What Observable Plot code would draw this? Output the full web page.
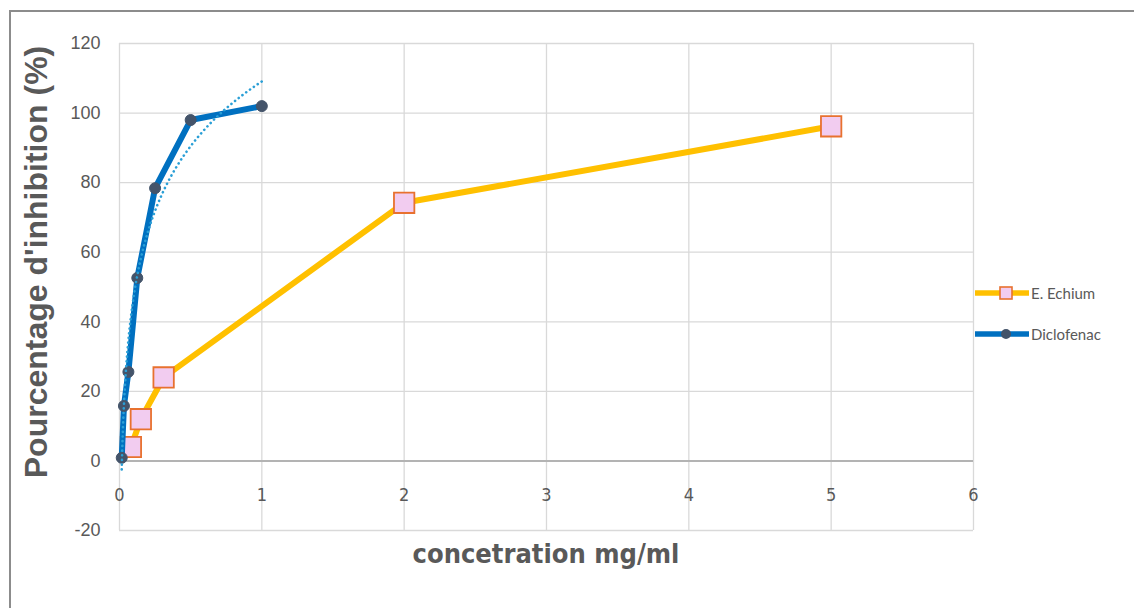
<!DOCTYPE html>
<html>
<head>
<meta charset="utf-8">
<script src="https://cdn.jsdelivr.net/npm/d3@7"></script>
<script src="https://cdn.jsdelivr.net/npm/@observablehq/plot@0.6"></script>
<style>
  html, body { margin: 0; padding: 0; background: #fff; }
  #wrap { position: relative; width: 1134px; height: 608px; overflow: hidden; background: #fff; }
  #frame { position: absolute; left: 9px; top: 10px; width: 1200px; height: 700px;
           border-top: 2px solid #8c8c8c; border-left: 2px solid #8c8c8c; box-sizing: border-box; }
  #chart { position: absolute; left: 0; top: 0; }
  .ytitle { position: absolute; left: 36px; top: 262px; transform: translate(-50%, -50%) rotate(-90deg);
            white-space: nowrap; font-family: "Liberation Sans", Arial, sans-serif; font-weight: bold;
            font-size: 32px; color: #595959; }
  .xtitle { position: absolute; left: 546px; top: 553px; transform: translate(-50%, -50%);
            white-space: nowrap; font-family: "Liberation Sans Narrow", "DejaVu Sans Condensed", "Roboto", sans-serif;
            font-weight: bold; font-size: 27px; color: #595959; }
  .legend { position: absolute; left: 975px; font-family: Lato, "Open Sans", sans-serif; font-size: 15px;
            color: #595959; display: flex; align-items: center; }
  .legend svg { display: block; margin-right: 2px; }
</style>
</head>
<body>
<div id="wrap">
  <div id="frame"></div>
  <div id="chart"></div>
  <div class="ytitle">Pourcentage d'inhibition (%)</div>
  <div class="xtitle">concetration mg/ml</div>
  <div id="legend"></div>
</div>
<script>
// ---- data ----
const seriesNames = ["E. Echium", "Diclofenac"];
const concEchium = [0.08, 0.15, 0.31, 2, 5];
const inhibEchium = [4, 12, 24, 74.2, 96.2];
const concDiclo = [0.015625, 0.03125, 0.0625, 0.125, 0.25, 0.5, 1];
const inhibDiclo = [0.9, 15.8, 25.6, 52.6, 78.4, 98, 102];
const xTicks = [0, 1, 2, 3, 4, 5, 6];
const yTicks = [-20, 0, 20, 40, 60, 80, 100, 120];

// ---- colours ----
const cEchiumLine = "#FFC000", cEchiumFill = "#F2CCF0", cEchiumStroke = "#E8712F";
const cDicloLine = "#0070C0", cDicloDot = "#44546A", cTrend = "#2A9FD6";

const echium = concEchium.map((x, i) => ({x, y: inhibEchium[i]}));
const diclo = concDiclo.map((x, i) => ({x, y: inhibDiclo[i]}));

// logarithmic trendline (least squares on ln x) for Diclofenac
const lx = concDiclo.map(Math.log);
const mx = d3.mean(lx), my = d3.mean(inhibDiclo);
const a = d3.sum(lx, (v, i) => (v - mx) * (inhibDiclo[i] - my)) / d3.sum(lx, v => (v - mx) ** 2);
const b = my - a * mx;
const x0 = d3.min(concDiclo), x1 = d3.max(concDiclo);
const trend = d3.range(0, 81).map(k => {
  const x = x0 * Math.pow(x1 / x0, k / 80);
  return {x, y: a * Math.log(x) + b};
});

const chart = Plot.plot({
  width: 1134,
  height: 608,
  marginLeft: 119,
  marginRight: 161,
  marginTop: 43,
  marginBottom: 78,
  style: {background: "transparent", overflow: "visible"},
  x: {domain: [0, 6], ticks: xTicks, axis: null},
  y: {domain: [-20, 120], ticks: yTicks, axis: null},
  marks: [
    Plot.gridX(xTicks, {stroke: "#d9d9d9", strokeOpacity: 1, strokeWidth: 1.3}),
    Plot.gridY(yTicks, {stroke: "#d9d9d9", strokeOpacity: 1, strokeWidth: 1.3}),
    Plot.ruleY([0], {stroke: "#b3b3b3", strokeWidth: 2}),
    Plot.text(yTicks, {y: d => d, frameAnchor: "left", dx: -19, textAnchor: "end", text: d => String(d),
      fontSize: 18, fill: "#595959", fontFamily: "Liberation Sans, Arial, sans-serif"}),
    Plot.text(xTicks, {x: d => d, y: () => 0, dy: 34, text: d => String(d), fontSize: 18,
      fill: "#595959", fontFamily: "Liberation Sans Narrow, DejaVu Sans Condensed, sans-serif", fontWeight: 300}),
    Plot.line(echium, {x: "x", y: "y", stroke: cEchiumLine, strokeWidth: 6, strokeLinejoin: "round"}),
    Plot.dot(echium, {x: "x", y: "y", symbol: "square", r: 11.5, fill: cEchiumFill, stroke: cEchiumStroke, strokeWidth: 1.8}),
    Plot.line(diclo, {x: "x", y: "y", stroke: cDicloLine, strokeWidth: 6, strokeLinejoin: "round"}),
    Plot.dot(diclo, {x: "x", y: "y", r: 5.5, fill: cDicloDot, stroke: cDicloDot, strokeWidth: 1}),
    Plot.line(trend, {x: "x", y: "y", stroke: cTrend, strokeWidth: 2.6, strokeDasharray: "0.1 4.6", strokeLinecap: "round"})
  ]
});
document.getElementById("chart").appendChild(chart);

// legend
const leg = document.getElementById("legend");
const tops = [293, 334];
seriesNames.forEach((name, i) => {
  const row = document.createElement("div");
  row.className = "legend";
  row.style.top = (tops[i] - 11) + "px";
  const sw = i === 0
    ? `<svg width="54" height="22"><line x1="1" y1="11" x2="53" y2="11" stroke="${cEchiumLine}" stroke-width="5.5" stroke-linecap="round"/><rect x="25" y="5" width="12" height="12" fill="${cEchiumFill}" stroke="${cEchiumStroke}" stroke-width="1.6"/></svg>`
    : `<svg width="54" height="22"><line x1="1" y1="11" x2="53" y2="11" stroke="${cDicloLine}" stroke-width="5.5" stroke-linecap="round"/><circle cx="31" cy="11" r="5" fill="${cDicloDot}"/></svg>`;
  row.innerHTML = sw + `<span>${name}</span>`;
  leg.appendChild(row);
});
</script>
</body>
</html>
